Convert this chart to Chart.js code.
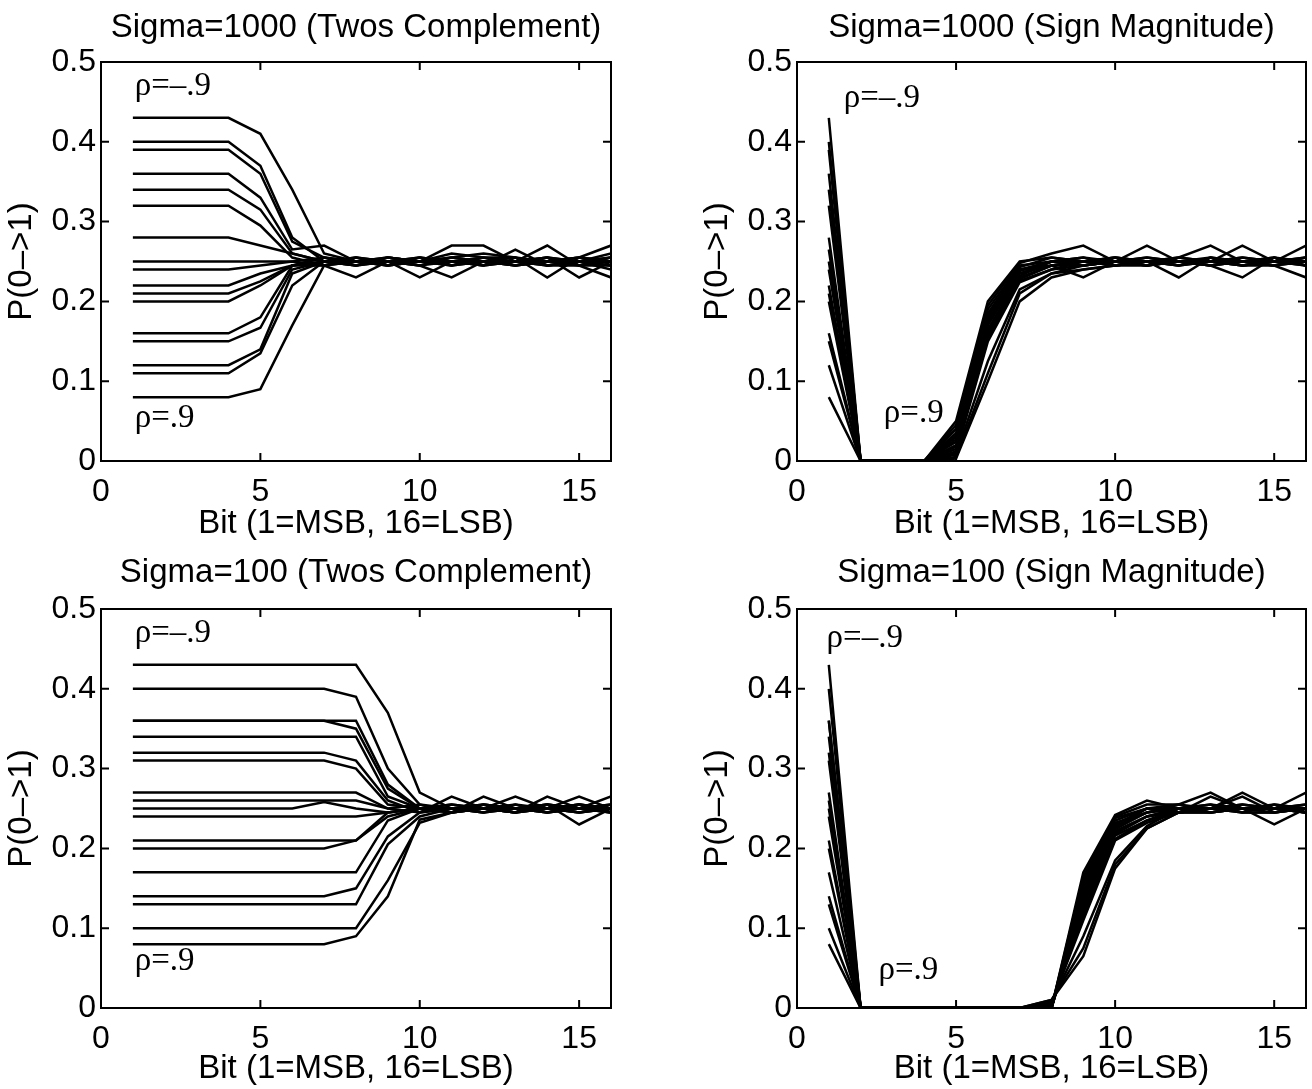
<!DOCTYPE html>
<html>
<head>
<meta charset="utf-8">
<script src="https://cdn.jsdelivr.net/npm/chart.js@4.4.1/dist/chart.umd.min.js"></script>
<style>
  body { margin: 0; background: #fff; width: 1312px; height: 1089px; position: relative; overflow: hidden; }
  canvas { position: absolute; }
</style>
</head>
<body>
<canvas id="tcBig" width="656" height="545" style="left:0;top:0"></canvas>
<canvas id="smBig" width="656" height="545" style="left:656px;top:0"></canvas>
<canvas id="tcSmall" width="656" height="544" style="left:0;top:545px"></canvas>
<canvas id="smSmall" width="656" height="544" style="left:656px;top:545px"></canvas>
<script>
// bit position, 1 = MSB ... 16 = LSB
const bits = [1, 2, 3, 4, 5, 6, 7, 8, 9, 10, 11, 12, 13, 14, 15, 16];
const xTicks = [0, 5, 10, 15];
const yTicks = [0, 0.1, 0.2, 0.3, 0.4, 0.5];

// Sigma=1000, twos complement (one row per rho, -.9 at the top)
const tc1000 = [
  [0.43, 0.43, 0.43, 0.43, 0.41, 0.34, 0.26, 0.25, 0.25, 0.25, 0.255, 0.25, 0.25, 0.255, 0.25, 0.245],
  [0.40, 0.40, 0.40, 0.40, 0.37, 0.28, 0.25, 0.25, 0.245, 0.25, 0.27, 0.27, 0.25, 0.25, 0.255, 0.25],
  [0.39, 0.39, 0.39, 0.39, 0.36, 0.275, 0.255, 0.245, 0.25, 0.255, 0.25, 0.245, 0.265, 0.245, 0.25, 0.255],
  [0.36, 0.36, 0.36, 0.36, 0.33, 0.265, 0.27, 0.25, 0.255, 0.25, 0.245, 0.255, 0.25, 0.27, 0.245, 0.25],
  [0.34, 0.34, 0.34, 0.34, 0.315, 0.26, 0.25, 0.255, 0.25, 0.245, 0.25, 0.25, 0.245, 0.25, 0.255, 0.27],
  [0.32, 0.32, 0.32, 0.32, 0.295, 0.255, 0.245, 0.25, 0.255, 0.25, 0.255, 0.26, 0.255, 0.245, 0.25, 0.245],
  [0.28, 0.28, 0.28, 0.28, 0.27, 0.26, 0.25, 0.245, 0.25, 0.23, 0.25, 0.25, 0.25, 0.255, 0.245, 0.255],
  [0.25, 0.25, 0.25, 0.25, 0.25, 0.25, 0.255, 0.25, 0.245, 0.25, 0.26, 0.255, 0.245, 0.25, 0.25, 0.24],
  [0.24, 0.24, 0.24, 0.24, 0.245, 0.25, 0.245, 0.23, 0.25, 0.255, 0.245, 0.25, 0.255, 0.23, 0.255, 0.25],
  [0.22, 0.22, 0.22, 0.22, 0.235, 0.245, 0.25, 0.255, 0.245, 0.25, 0.25, 0.245, 0.25, 0.255, 0.23, 0.25],
  [0.21, 0.21, 0.21, 0.21, 0.225, 0.245, 0.255, 0.25, 0.25, 0.245, 0.23, 0.25, 0.245, 0.25, 0.25, 0.255],
  [0.20, 0.20, 0.20, 0.20, 0.22, 0.245, 0.25, 0.245, 0.255, 0.25, 0.25, 0.25, 0.25, 0.245, 0.245, 0.23],
  [0.16, 0.16, 0.16, 0.16, 0.18, 0.245, 0.245, 0.255, 0.25, 0.245, 0.255, 0.25, 0.25, 0.25, 0.25, 0.25],
  [0.15, 0.15, 0.15, 0.15, 0.167, 0.24, 0.25, 0.25, 0.245, 0.255, 0.25, 0.255, 0.255, 0.25, 0.245, 0.245],
  [0.12, 0.12, 0.12, 0.12, 0.14, 0.235, 0.25, 0.245, 0.255, 0.25, 0.245, 0.25, 0.245, 0.255, 0.25, 0.26],
  [0.11, 0.11, 0.11, 0.11, 0.135, 0.22, 0.25, 0.25, 0.25, 0.25, 0.25, 0.245, 0.25, 0.25, 0.255, 0.25],
  [0.08, 0.08, 0.08, 0.08, 0.09, 0.17, 0.245, 0.25, 0.25, 0.25, 0.25, 0.25, 0.25, 0.245, 0.25, 0.25]
];

// Sigma=1000, sign magnitude
const sm1000 = [
  [0.43, 0, 0, 0, 0.05, 0.2, 0.25, 0.255, 0.25, 0.255, 0.25, 0.245, 0.25, 0.27, 0.25, 0.25],
  [0.40, 0, 0, 0, 0.045, 0.195, 0.248, 0.26, 0.27, 0.25, 0.255, 0.25, 0.245, 0.25, 0.255, 0.245],
  [0.39, 0, 0, 0, 0.04, 0.19, 0.245, 0.25, 0.245, 0.25, 0.27, 0.25, 0.25, 0.245, 0.25, 0.27],
  [0.36, 0, 0, 0, 0.04, 0.185, 0.243, 0.255, 0.25, 0.245, 0.25, 0.255, 0.27, 0.25, 0.245, 0.25],
  [0.34, 0, 0, 0, 0.035, 0.182, 0.24, 0.25, 0.255, 0.25, 0.245, 0.25, 0.25, 0.255, 0.25, 0.245],
  [0.32, 0, 0, 0, 0.032, 0.178, 0.24, 0.245, 0.25, 0.255, 0.25, 0.23, 0.255, 0.25, 0.25, 0.255],
  [0.28, 0, 0, 0, 0.03, 0.175, 0.238, 0.25, 0.245, 0.25, 0.255, 0.25, 0.245, 0.23, 0.255, 0.25],
  [0.265, 0, 0, 0, 0.027, 0.172, 0.235, 0.25, 0.255, 0.245, 0.25, 0.255, 0.25, 0.25, 0.245, 0.23],
  [0.25, 0, 0, 0, 0.024, 0.17, 0.235, 0.245, 0.23, 0.25, 0.245, 0.25, 0.255, 0.245, 0.25, 0.25],
  [0.24, 0, 0, 0, 0.02, 0.165, 0.232, 0.25, 0.25, 0.255, 0.25, 0.245, 0.25, 0.255, 0.25, 0.255],
  [0.22, 0, 0, 0, 0.018, 0.162, 0.23, 0.245, 0.25, 0.25, 0.25, 0.25, 0.245, 0.25, 0.255, 0.245],
  [0.21, 0, 0, 0, 0.015, 0.158, 0.228, 0.245, 0.245, 0.25, 0.245, 0.255, 0.25, 0.25, 0.25, 0.25],
  [0.20, 0, 0, 0, 0.012, 0.155, 0.226, 0.24, 0.25, 0.245, 0.25, 0.25, 0.25, 0.245, 0.245, 0.255],
  [0.16, 0, 0, 0, 0.01, 0.15, 0.224, 0.24, 0.245, 0.25, 0.25, 0.245, 0.255, 0.25, 0.25, 0.25],
  [0.15, 0, 0, 0, 0.008, 0.125, 0.215, 0.235, 0.245, 0.25, 0.245, 0.25, 0.25, 0.25, 0.25, 0.245],
  [0.12, 0, 0, 0, 0.005, 0.11, 0.21, 0.235, 0.24, 0.245, 0.25, 0.25, 0.245, 0.25, 0.245, 0.25],
  [0.08, 0, 0, 0, 0.003, 0.1, 0.2, 0.23, 0.24, 0.245, 0.245, 0.25, 0.25, 0.245, 0.25, 0.25]
];

// Sigma=100, twos complement
const tc100 = [
  [0.43, 0.43, 0.43, 0.43, 0.43, 0.43, 0.43, 0.43, 0.37, 0.27, 0.25, 0.255, 0.25, 0.255, 0.25, 0.25],
  [0.40, 0.40, 0.40, 0.40, 0.40, 0.40, 0.40, 0.39, 0.30, 0.255, 0.25, 0.25, 0.245, 0.25, 0.255, 0.25],
  [0.36, 0.36, 0.36, 0.36, 0.36, 0.36, 0.36, 0.36, 0.28, 0.25, 0.245, 0.265, 0.25, 0.25, 0.255, 0.245],
  [0.36, 0.36, 0.36, 0.36, 0.36, 0.36, 0.36, 0.35, 0.275, 0.25, 0.255, 0.25, 0.245, 0.265, 0.25, 0.255],
  [0.34, 0.34, 0.34, 0.34, 0.34, 0.34, 0.34, 0.34, 0.265, 0.25, 0.25, 0.245, 0.255, 0.25, 0.265, 0.25],
  [0.32, 0.32, 0.32, 0.32, 0.32, 0.32, 0.32, 0.31, 0.26, 0.245, 0.265, 0.25, 0.25, 0.245, 0.25, 0.265],
  [0.31, 0.31, 0.31, 0.31, 0.31, 0.31, 0.31, 0.30, 0.255, 0.25, 0.25, 0.25, 0.265, 0.25, 0.245, 0.25],
  [0.27, 0.27, 0.27, 0.27, 0.27, 0.27, 0.27, 0.27, 0.25, 0.255, 0.245, 0.25, 0.245, 0.255, 0.25, 0.245],
  [0.26, 0.26, 0.26, 0.26, 0.26, 0.26, 0.26, 0.26, 0.25, 0.245, 0.25, 0.255, 0.25, 0.25, 0.255, 0.25],
  [0.25, 0.25, 0.25, 0.25, 0.25, 0.25, 0.258, 0.25, 0.245, 0.25, 0.255, 0.25, 0.255, 0.245, 0.25, 0.255],
  [0.24, 0.24, 0.24, 0.24, 0.24, 0.24, 0.24, 0.24, 0.245, 0.25, 0.25, 0.245, 0.25, 0.255, 0.23, 0.25],
  [0.21, 0.21, 0.21, 0.21, 0.21, 0.21, 0.21, 0.21, 0.245, 0.25, 0.245, 0.25, 0.245, 0.25, 0.25, 0.245],
  [0.20, 0.20, 0.20, 0.20, 0.20, 0.20, 0.20, 0.21, 0.24, 0.25, 0.25, 0.25, 0.25, 0.245, 0.255, 0.25],
  [0.17, 0.17, 0.17, 0.17, 0.17, 0.17, 0.17, 0.17, 0.235, 0.25, 0.245, 0.255, 0.25, 0.25, 0.245, 0.25],
  [0.14, 0.14, 0.14, 0.14, 0.14, 0.14, 0.14, 0.15, 0.215, 0.245, 0.25, 0.245, 0.25, 0.255, 0.25, 0.245],
  [0.13, 0.13, 0.13, 0.13, 0.13, 0.13, 0.13, 0.13, 0.205, 0.24, 0.25, 0.25, 0.245, 0.25, 0.25, 0.25],
  [0.10, 0.10, 0.10, 0.10, 0.10, 0.10, 0.10, 0.10, 0.16, 0.232, 0.245, 0.25, 0.25, 0.245, 0.25, 0.25],
  [0.08, 0.08, 0.08, 0.08, 0.08, 0.08, 0.08, 0.09, 0.14, 0.236, 0.245, 0.25, 0.25, 0.25, 0.245, 0.25]
];

// Sigma=100, sign magnitude
const sm100 = [
  [0.43, 0, 0, 0, 0, 0, 0, 0, 0.17, 0.242, 0.26, 0.25, 0.255, 0.25, 0.25, 0.245],
  [0.40, 0, 0, 0, 0, 0, 0, 0, 0.165, 0.24, 0.255, 0.255, 0.27, 0.25, 0.245, 0.25],
  [0.36, 0, 0, 0, 0, 0, 0, 0, 0.16, 0.238, 0.25, 0.25, 0.25, 0.27, 0.25, 0.255],
  [0.36, 0, 0, 0, 0, 0, 0, 0, 0.155, 0.235, 0.25, 0.245, 0.25, 0.255, 0.25, 0.27],
  [0.34, 0, 0, 0, 0, 0, 0, 0, 0.15, 0.232, 0.245, 0.255, 0.25, 0.25, 0.255, 0.25],
  [0.32, 0, 0, 0, 0, 0, 0, 0, 0.147, 0.23, 0.25, 0.245, 0.265, 0.25, 0.25, 0.245],
  [0.31, 0, 0, 0, 0, 0, 0, 0, 0.143, 0.228, 0.245, 0.25, 0.25, 0.265, 0.245, 0.25],
  [0.27, 0, 0, 0, 0, 0, 0, 0, 0.14, 0.226, 0.25, 0.255, 0.245, 0.25, 0.25, 0.255],
  [0.26, 0, 0, 0, 0, 0, 0, 0, 0.136, 0.224, 0.245, 0.25, 0.255, 0.245, 0.255, 0.25],
  [0.25, 0, 0, 0, 0, 0, 0, 0, 0.132, 0.222, 0.24, 0.25, 0.25, 0.255, 0.25, 0.245],
  [0.24, 0, 0, 0, 0, 0, 0, 0.003, 0.128, 0.22, 0.24, 0.245, 0.25, 0.25, 0.23, 0.25],
  [0.21, 0, 0, 0, 0, 0, 0, 0.003, 0.124, 0.218, 0.24, 0.25, 0.245, 0.25, 0.25, 0.25],
  [0.20, 0, 0, 0, 0, 0, 0, 0.004, 0.12, 0.216, 0.235, 0.245, 0.25, 0.245, 0.245, 0.25],
  [0.17, 0, 0, 0, 0, 0, 0, 0.005, 0.115, 0.212, 0.235, 0.25, 0.25, 0.25, 0.25, 0.245],
  [0.14, 0, 0, 0, 0, 0, 0, 0.006, 0.11, 0.21, 0.232, 0.245, 0.245, 0.25, 0.25, 0.25],
  [0.13, 0, 0, 0, 0, 0, 0, 0.008, 0.09, 0.185, 0.228, 0.25, 0.25, 0.245, 0.245, 0.25],
  [0.10, 0, 0, 0, 0, 0, 0, 0.01, 0.075, 0.18, 0.225, 0.245, 0.25, 0.25, 0.25, 0.245],
  [0.08, 0, 0, 0, 0, 0, 0, 0.01, 0.065, 0.175, 0.225, 0.245, 0.245, 0.25, 0.25, 0.25]
];

const SANS = "'Liberation Sans', Arial, sans-serif";
const SERIF = "'Liberation Serif', 'Times New Roman', serif";

// matlab style box with inward ticks, plus the rho labels
const boxPlugin = {
  id: "box",
  afterDatasetsDraw(chart, args, opts) {
    const { ctx, chartArea: a, scales: { x, y } } = chart;
    ctx.save();
    ctx.strokeStyle = "#000";
    ctx.lineWidth = 2;
    ctx.strokeRect(a.left, a.top, a.right - a.left, a.bottom - a.top);
    ctx.beginPath();
    x.ticks.forEach(t => {
      const px = x.getPixelForValue(t.value);
      ctx.moveTo(px, a.bottom); ctx.lineTo(px, a.bottom - 8);
      ctx.moveTo(px, a.top); ctx.lineTo(px, a.top + 8);
    });
    y.ticks.forEach(t => {
      const py = y.getPixelForValue(t.value);
      ctx.moveTo(a.left, py); ctx.lineTo(a.left + 8, py);
      ctx.moveTo(a.right, py); ctx.lineTo(a.right - 8, py);
    });
    ctx.stroke();

    ctx.fillStyle = "#000";
    ctx.font = "33px " + SERIF;
    ctx.textAlign = "left";
    ctx.textBaseline = "middle";
    (opts.labels || []).forEach(l => {
      ctx.fillText(l.text, x.getPixelForValue(l.x), y.getPixelForValue(l.y));
    });
    ctx.restore();
  }
};

function makeChart(id, title, rows, g) {
  new Chart(document.getElementById(id), {
    type: "line",
    data: {
      datasets: rows.map((r, i) => ({
        label: "rho " + i,
        data: r.map((v, j) => ({ x: bits[j], y: v })),
        borderColor: "#000",
        borderWidth: 2.5,
        pointRadius: 0,
        tension: 0,
        fill: false
      }))
    },
    options: {
      responsive: false,
      animation: false,
      events: [],
      layout: { padding: { left: g.padLeft, right: g.padRight, top: 0, bottom: 0 } },
      plugins: {
        legend: { display: false },
        tooltip: { enabled: false },
        title: {
          display: true,
          fullSize: false,
          text: title,
          color: "#000",
          font: { family: SANS, size: 33, weight: "normal" },
          padding: { top: 8, bottom: g.titleBottom }
        },
        box: { labels: g.labels }
      },
      scales: {
        x: {
          type: "linear",
          min: 0,
          max: 16,
          afterBuildTicks: s => { s.ticks = xTicks.map(v => ({ value: v })); },
          afterFit: s => { s.height = g.xHeight; },
          grid: { display: false, drawTicks: false },
          border: { display: false },
          ticks: { color: "#000", padding: 12, font: { family: SANS, size: 32 } },
          title: {
            display: true,
            text: "Bit (1=MSB, 16=LSB)",
            color: "#000",
            font: { family: SANS, size: 33 },
            padding: { top: 0, bottom: g.xTitleBottom }
          }
        },
        y: {
          min: 0,
          max: 0.5,
          afterBuildTicks: s => { s.ticks = yTicks.map(v => ({ value: v })); },
          afterFit: s => { s.width = 100; },
          grid: { display: false, drawTicks: false },
          border: { display: false },
          ticks: {
            color: "#000",
            padding: 5,
            font: { family: SANS, size: 32 },
            callback: v => (v === 0 ? "0" : v.toFixed(1))
          },
          title: {
            display: true,
            text: "P(0\u2013>1)",
            color: "#000",
            font: { family: SANS, size: 33 },
            padding: { top: 1, bottom: 0 }
          }
        }
      }
    },
    plugins: [boxPlugin]
  });
}

const upperRow = { titleBottom: 14.4, xHeight: 84, xTitleBottom: 1.2 };
const lowerRow = { titleBottom: 16.4, xHeight: 81, xTitleBottom: 0.2 };

makeChart("tcBig", "Sigma=1000 (Twos Complement)", tc1000, Object.assign({}, upperRow, {
  padLeft: 1, padRight: 45,
  labels: [{ text: "\u03c1=\u2013.9", x: 1.06, y: 0.469 }, { text: "\u03c1=.9", x: 1.06, y: 0.054 }]
}));
makeChart("smBig", "Sigma=1000 (Sign Magnitude)", sm1000, Object.assign({}, upperRow, {
  padLeft: 41, padRight: 6,
  labels: [{ text: "\u03c1=\u2013.9", x: 1.47, y: 0.454 }, { text: "\u03c1=.9", x: 2.73, y: 0.06 }]
}));
makeChart("tcSmall", "Sigma=100 (Twos Complement)", tc100, Object.assign({}, lowerRow, {
  padLeft: 1, padRight: 45,
  labels: [{ text: "\u03c1=\u2013.9", x: 1.06, y: 0.47 }, { text: "\u03c1=.9", x: 1.06, y: 0.058 }]
}));
makeChart("smSmall", "Sigma=100 (Sign Magnitude)", sm100, Object.assign({}, lowerRow, {
  padLeft: 41, padRight: 6,
  labels: [{ text: "\u03c1=\u2013.9", x: 0.93, y: 0.463 }, { text: "\u03c1=.9", x: 2.56, y: 0.047 }]
}));
</script>
</body>
</html>
